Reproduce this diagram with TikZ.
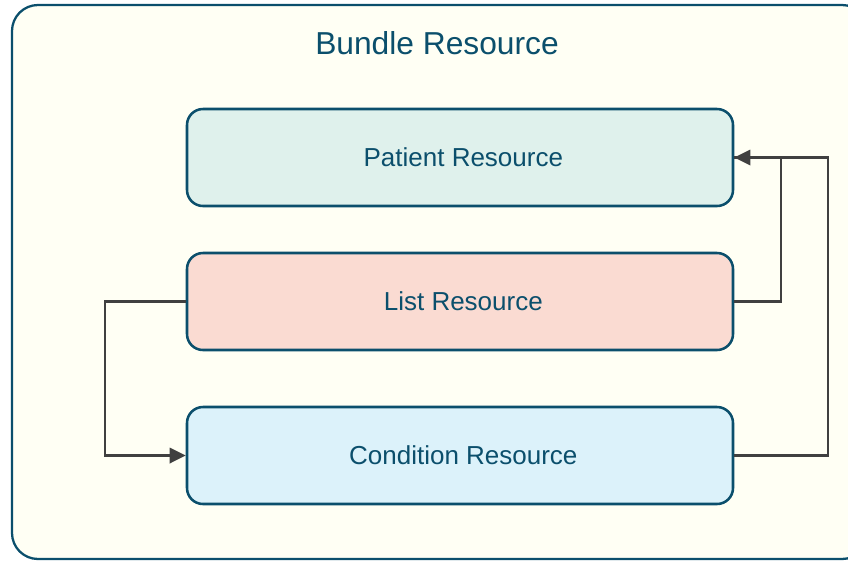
\documentclass[tikz,border=0pt]{standalone}
\usepackage{fontspec}
\setmainfont{Liberation Sans}
\usetikzlibrary{arrows.meta}
\definecolor{edgeblue}{HTML}{0B4F6C}
\definecolor{outerfill}{HTML}{FFFFF4}
\definecolor{patfill}{HTML}{DFF1EC}
\definecolor{listfill}{HTML}{FADBD2}
\definecolor{condfill}{HTML}{DCF2FA}
\definecolor{conncol}{HTML}{404040}
\tikzset{
  resbox/.style={draw=edgeblue, line width=1.9pt, rounded corners=12pt,
    minimum width=409.5pt, minimum height=72.75pt, inner sep=0pt,
    text=edgeblue, font=\fontsize{19.5pt}{23pt}\selectfont},
  conn/.style={draw=conncol, line width=1.8pt, -{Triangle[length=12pt,width=11.5pt]}},
  plainconn/.style={draw=conncol, line width=1.8pt}
}
\begin{document}
\begin{tikzpicture}[x=0.75pt, y=-0.75pt]
\useasboundingbox (0,0) rectangle (848,561);
\clip (0,0) rectangle (848,561);
\draw[draw=edgeblue, fill=outerfill, line width=1.7pt, rounded corners=19.5pt] (12,5) rectangle (868,559);
\node[text=edgeblue, font=\fontsize{23.8pt}{28pt}\selectfont] (title) at (437,43) {Bundle Resource};
\node[resbox, fill=patfill] (patient) at (460,157.5) {\hspace*{5pt}Patient Resource};
\node[resbox, fill=listfill] (list) at (460,301.5) {\hspace*{5pt}List Resource};
\node[resbox, fill=condfill] (cond) at (460,455.5) {\hspace*{5pt}Condition Resource};
\draw[conn] (list.west) -- ++(-81,0) |- (cond.west);
\draw[plainconn] (list.east) -- ++(47,0) |- (patient.east);
\draw[conn] (cond.east) -- ++(94,0) |- (patient.east);
\end{tikzpicture}
\end{document}
